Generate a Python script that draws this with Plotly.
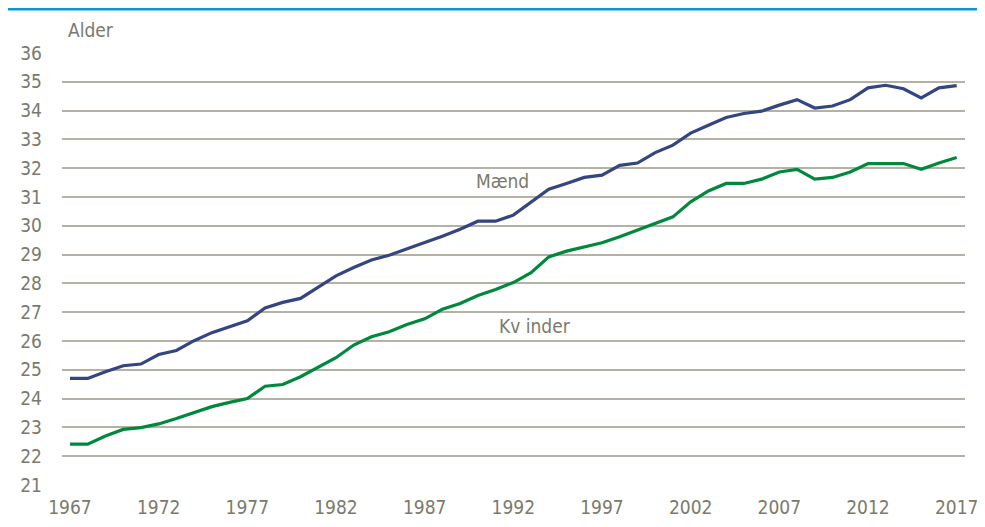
"""Gennemsnitsalder for mænd og kvinder, 1967-2017 (line chart)."""

import plotly.graph_objects as go

years = list(range(1967, 2018))

maend = [
    24.70, 24.70, 24.93, 25.14, 25.20, 25.53, 25.67, 26.01, 26.29, 26.49,
    26.70, 27.15, 27.34, 27.48, 27.88, 28.26, 28.55, 28.81, 28.98, 29.21,
    29.42, 29.64, 29.88, 30.16, 30.16, 30.37, 30.83, 31.27, 31.47, 31.68,
    31.76, 32.10, 32.18, 32.54, 32.80, 33.22, 33.49, 33.76, 33.90, 33.98,
    34.19, 34.38, 34.09, 34.16, 34.38, 34.79, 34.88, 34.76, 34.44, 34.79,
    34.87,
]

kvinder = [
    22.42, 22.42, 22.70, 22.93, 22.99, 23.12, 23.31, 23.52, 23.72, 23.87,
    24.00, 24.43, 24.49, 24.76, 25.10, 25.42, 25.86, 26.15, 26.32, 26.57,
    26.77, 27.10, 27.30, 27.58, 27.79, 28.03, 28.37, 28.92, 29.12, 29.27,
    29.41, 29.62, 29.85, 30.10, 30.31, 30.83, 31.21, 31.47, 31.47, 31.62,
    31.87, 31.96, 31.62, 31.68, 31.87, 32.16, 32.16, 32.16, 31.96, 32.18,
    32.37,
]

x_ticks = list(range(1967, 2018, 5))
y_ticks = list(range(21, 37))

FONT = "DejaVu Sans Condensed, Liberation Sans Narrow, Roboto, sans-serif"
TEXT_GREY = "#7a7a6c"
GRID = "#b5b2a3"

fig = go.Figure()
fig.add_trace(go.Scatter(x=years, y=maend, name="Mænd", mode="lines",
                         line=dict(color="#34457f", width=3.2)))
fig.add_trace(go.Scatter(x=years, y=kvinder, name="Kvinder", mode="lines",
                         line=dict(color="#00893d", width=3.2)))

# page body adds an 8px margin, so the figure is sized/offset to compensate
fig.update_layout(
    width=977, height=519,
    paper_bgcolor="white", plot_bgcolor="white",
    showlegend=False,
    font=dict(family=FONT, size=19, color=TEXT_GREY),
    margin=dict(l=54, r=20, t=45, b=42),
    xaxis=dict(
        range=[1966.55, 2017.47],
        tickvals=x_ticks,
        showgrid=False, zeroline=False, showline=False,
        ticks="", ticklabelstandoff=9, automargin=False,
    ),
    yaxis=dict(
        range=[21, 36],
        tickvals=y_ticks,
        showgrid=True, gridcolor=GRID, gridwidth=2,
        zeroline=False, showline=False,
        ticks="", ticklabelstandoff=19, automargin=False,
    ),
)

# blue rule along the top of the page
fig.add_shape(type="line", xref="paper", yref="paper",
              x0=-0.07, x1=1.03, y0=1.101, y1=1.101,
              line=dict(color="#0a96d6", width=2.5))

fig.add_annotation(text="Alder", xref="paper", yref="paper",
                   x=0.004, y=1.053, xanchor="left", yanchor="middle",
                   showarrow=False, font=dict(size=19, color=TEXT_GREY))
fig.add_annotation(text="Mænd", x=1991.4, y=31.55, showarrow=False,
                   font=dict(size=19, color=TEXT_GREY))
fig.add_annotation(text="Kv inder", x=1993.2, y=26.52, showarrow=False,
                   font=dict(size=19, color=TEXT_GREY))

fig.write_html("out.html")
